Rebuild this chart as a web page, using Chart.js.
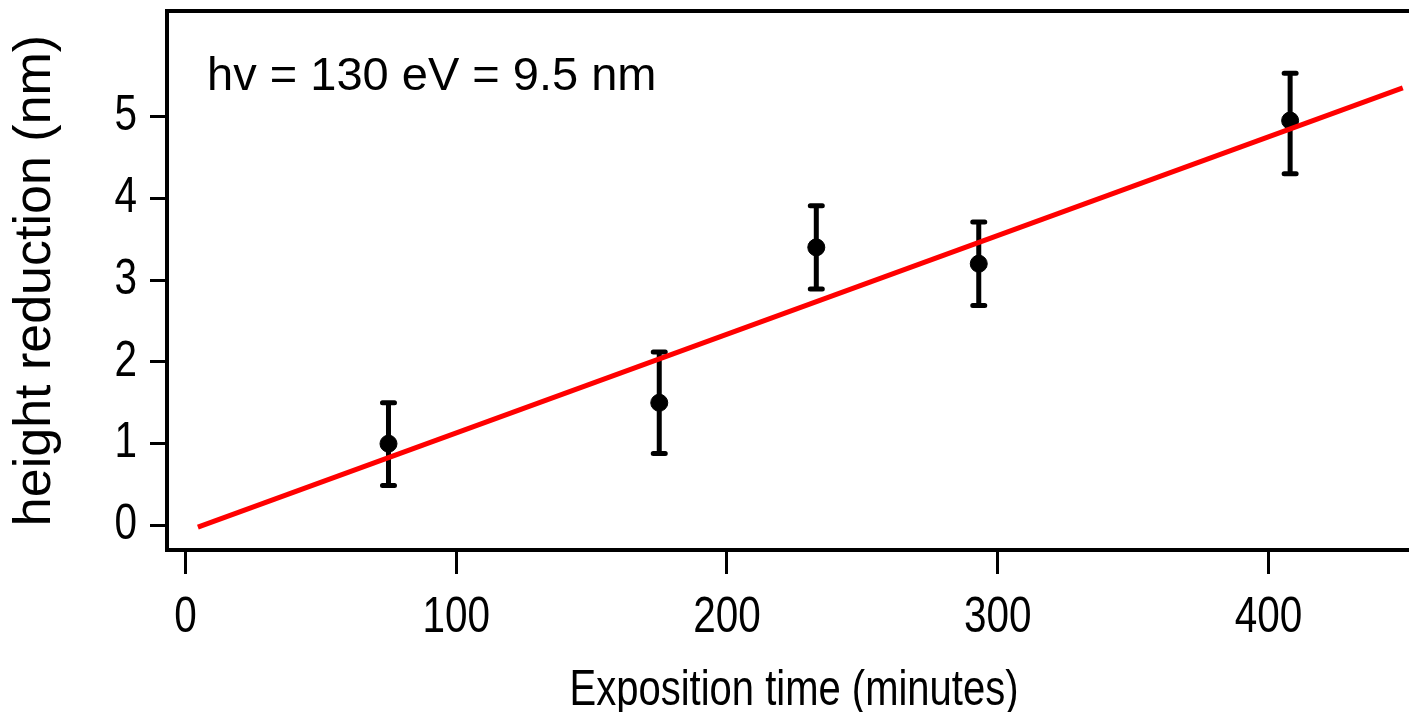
<!DOCTYPE html>
<html lang="en">
<head>
    <meta charset="UTF-8"/>
    <script src="https://cdn.jsdelivr.net/npm/chart.js@4.4.1/dist/chart.umd.min.js"></script>
    <title>Height reduction vs exposition time</title>
    <style>
        body { margin: 0; background: #fff; }
    </style>
</head>
<body>
<canvas id="heightChart" width="1409" height="712"></canvas>

<script>
    // data
    const exposure = [75, 175, 233, 293, 408];          // minutes
    const reduction = [1.0, 1.5, 3.4, 3.2, 4.95];        // nm
    const errLow = [0.49, 0.88, 2.89, 2.69, 4.30];
    const errHigh = [1.50, 2.12, 3.91, 3.71, 5.53];
    // linear fit, end points
    const fitX = [4.6, 449.6];
    const fitY = [-0.02, 5.35];
    // ticks
    const xTickValues = [0, 100, 200, 300, 400];
    const yTickValues = [0, 1, 2, 3, 4, 5];
    const xTitle = 'Exposition time (minutes)';
    const yTitle = 'height reduction (nm)';
    const noteText = 'hv = 130 eV = 9.5 nm';

    const regular = "'Liberation Sans', Arial, sans-serif";

    // the axis text in the original is condensed
    function narrowText(ctx, text, x, y, align, baseline, squeeze) {
        ctx.save();
        ctx.translate(x, y);
        ctx.scale(squeeze, 1);
        ctx.textAlign = align;
        ctx.textBaseline = baseline;
        ctx.fillText(text, 0, 0);
        ctx.restore();
    }

    // error bars under the points, condensed axis labels, note in the corner
    const errorBars = {
        id: 'errorBars',
        beforeDatasetsDraw(chart) {
            const {ctx} = chart;
            const x = chart.scales.x, y = chart.scales.y;
            ctx.save();
            ctx.strokeStyle = '#000';
            ctx.lineWidth = 5;
            ctx.lineCap = 'round';
            exposure.forEach((t, i) => {
                const px = x.getPixelForValue(t);
                const top = y.getPixelForValue(errHigh[i]);
                const bot = y.getPixelForValue(errLow[i]);
                ctx.beginPath();
                ctx.moveTo(px, top);
                ctx.lineTo(px, bot);
                ctx.moveTo(px - 6, top);
                ctx.lineTo(px + 6, top);
                ctx.moveTo(px - 6, bot);
                ctx.lineTo(px + 6, bot);
                ctx.stroke();
            });
            ctx.restore();
        },
        afterDraw(chart, args, opts) {
            const {ctx, chartArea} = chart;
            const x = chart.scales.x, y = chart.scales.y;
            ctx.save();
            ctx.fillStyle = '#000';
            ctx.font = '50px ' + regular;
            y.ticks.forEach(t => {
                narrowText(ctx, String(t.value), y.right - 30, y.getPixelForValue(t.value), 'right', 'middle', 0.81);
            });
            x.ticks.forEach(t => {
                narrowText(ctx, String(t.value), x.getPixelForValue(t.value), x.top + 68, 'center', 'middle', 0.81);
            });
            narrowText(ctx, xTitle, (chartArea.left + chartArea.right) / 2 + 6, x.top + 155, 'center', 'alphabetic', 0.80);

            ctx.font = '47px ' + regular;
            ctx.textAlign = 'left';
            ctx.textBaseline = 'alphabetic';
            ctx.fillText(noteText, x.getPixelForValue(opts.at[0]), y.getPixelForValue(opts.at[1]));
            ctx.restore();
        }
    };

    const ctx = document.getElementById('heightChart').getContext('2d');
    const heightChart = new Chart(ctx, {
        type: 'scatter',
        data: {
            datasets: [{
                label: 'fit',
                type: 'line',
                data: fitX.map((v, i) => ({x: v, y: fitY[i]})),
                borderColor: '#ff0000',
                borderWidth: 5,
                pointRadius: 0,
                fill: false,
                order: 0
            }, {
                label: 'height reduction',
                data: exposure.map((v, i) => ({x: v, y: reduction[i]})),
                backgroundColor: '#000',
                borderColor: '#000',
                pointRadius: 8.5,
                order: 1
            }]
        },
        options: {
            responsive: false,
            animation: false,
            layout: {autoPadding: false, padding: {top: 11, right: 0, bottom: 0, left: 0}},
            plugins: {
                legend: {display: false},
                tooltip: {enabled: false},
                errorBars: {at: [8, 5.33]}
            },
            scales: {
                x: {
                    type: 'linear',
                    position: 'bottom',
                    min: -6.8,
                    max: 451.9,
                    afterBuildTicks: s => { s.ticks = xTickValues.map(v => ({value: v})); },
                    afterFit: s => { s.height = 162; s.paddingLeft = 0; s.paddingRight = 0; },
                    grid: {drawOnChartArea: false, drawTicks: true, tickLength: 24, tickWidth: 3, tickColor: '#000'},
                    border: {display: true, color: '#000', width: 4},
                    ticks: {display: false}
                },
                x2: {
                    type: 'linear',
                    position: 'top',
                    min: -6.8,
                    max: 451.9,
                    afterFit: s => { s.height = 0; },
                    grid: {display: false, drawTicks: false},
                    border: {display: true, color: '#000', width: 4},
                    ticks: {display: false}
                },
                y: {
                    type: 'linear',
                    min: -0.30,
                    max: 6.29,
                    afterBuildTicks: s => { s.ticks = yTickValues.map(v => ({value: v})); },
                    afterFit: s => { s.width = 167; s.paddingTop = 0; s.paddingBottom = 0; },
                    grid: {drawOnChartArea: false, drawTicks: true, tickLength: 17, tickWidth: 3, tickColor: '#000'},
                    border: {display: true, color: '#000', width: 4},
                    ticks: {display: false},
                    title: {
                        display: true,
                        text: yTitle,
                        color: '#000',
                        padding: {top: 10, bottom: 0},
                        font: {family: regular, size: 52, lineHeight: 1}
                    }
                }
            }
        },
        plugins: [errorBars]
    });
</script>
</body>
</html>
